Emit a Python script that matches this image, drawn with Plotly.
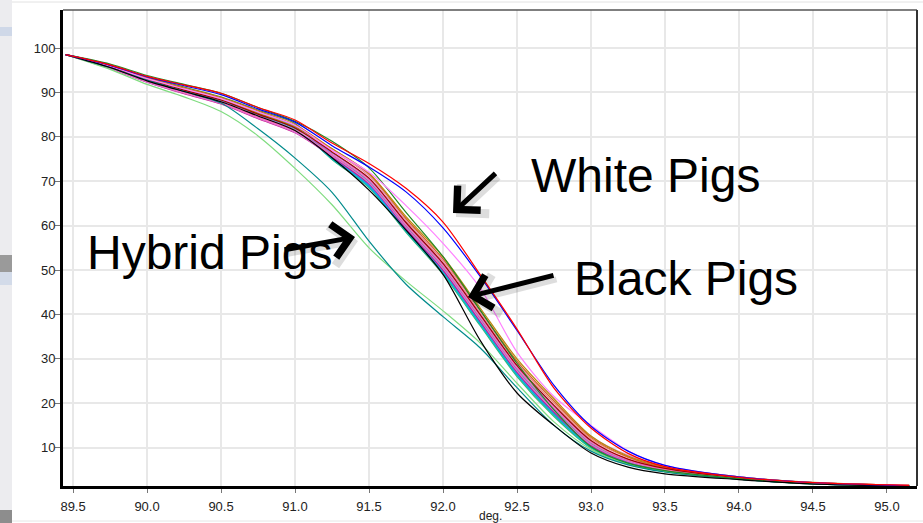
import plotly.graph_objects as go

# ---------------- data ----------------
temps = [89.45, 89.75, 90.0, 90.25, 90.5, 90.75, 91.0, 91.25, 91.5, 91.75,
         92.0, 92.25, 92.5, 92.75, 93.0, 93.25, 93.5, 94.0, 94.5, 95.15]

x_ticks = [89.5, 90.0, 90.5, 91.0, 91.5, 92.0, 92.5, 93.0, 93.5, 94.0, 94.5, 95.0]
y_ticks = [10, 20, 30, 40, 50, 60, 70, 80, 90, 100]

# black pigs (main bundle)
bp_darkred   = [98.5, 95.8, 92.9, 90.5, 88.3, 85.1, 82.0, 76.6, 70.7, 60.7, 51.5, 40.0, 28.5, 19.5, 11.6, 7.4, 5.3, 3.2, 2.0, 1.4]
bp_goldenrod = [98.5, 95.9, 93.0, 90.7, 88.4, 85.3, 82.2, 77.3, 71.8, 62.0, 53.0, 41.5, 30.0, 21.0, 12.6, 8.1, 5.7, 3.4, 2.2, 1.5]
bp_hotpink   = [98.5, 95.5, 92.5, 90.0, 87.7, 84.4, 81.3, 76.0, 70.3, 60.2, 51.0, 39.5, 28.0, 19.0, 11.2, 7.2, 5.1, 3.1, 2.0, 1.4]
bp_orchid    = [98.5, 95.4, 92.3, 89.8, 87.5, 84.2, 81.0, 75.7, 69.6, 59.6, 50.3, 38.8, 27.3, 18.3, 10.7, 6.9, 5.0, 3.0, 1.9, 1.4]
bp_mvred     = [98.5, 95.4, 92.3, 89.7, 87.4, 84.1, 80.9, 75.5, 69.4, 59.4, 50.0, 38.5, 27.0, 18.0, 10.5, 6.8, 4.9, 3.0, 1.9, 1.4]
bp_cornflower= [98.5, 96.0, 93.2, 90.9, 88.6, 85.5, 82.5, 76.1, 70.0, 60.0, 50.8, 39.3, 27.8, 18.8, 11.1, 7.1, 5.1, 3.1, 2.0, 1.4]
bp_dodger    = [98.5, 95.9, 93.0, 90.6, 88.3, 85.2, 82.1, 75.4, 69.1, 59.1, 49.8, 38.3, 26.8, 17.8, 10.4, 6.7, 4.8, 3.0, 1.9, 1.4]
bp_cyan      = [98.5, 95.7, 92.8, 90.3, 88.1, 84.9, 81.8, 75.0, 68.7, 58.7, 49.3, 37.8, 26.3, 17.3, 10.0, 6.4, 4.7, 2.9, 1.9, 1.3]
bp_seagreen  = [98.5, 95.8, 92.8, 90.4, 88.2, 85.0, 81.9, 75.2, 68.9, 58.9, 49.5, 38.0, 26.5, 17.5, 10.2, 6.5, 4.8, 2.9, 1.9, 1.3]
bp_medgreen  = [98.5, 96.0, 93.1, 90.8, 88.5, 85.4, 82.4, 74.9, 68.5, 58.5, 49.0, 37.5, 26.0, 17.0, 9.9, 6.3, 4.6, 2.9, 1.8, 1.3]
bp_purple    = [98.5, 95.7, 92.7, 90.2, 88.0, 84.8, 81.6, 76.4, 70.5, 60.5, 51.3, 39.8, 28.3, 19.3, 11.4, 7.3, 5.2, 3.2, 2.0, 1.4]
bp_plum      = [98.5, 95.6, 92.6, 90.1, 87.8, 84.6, 81.4, 77.1, 71.4, 61.4, 52.3, 40.8, 29.3, 20.5, 12.5, 8.3, 5.8, 3.4, 2.1, 1.5]
bp_coral     = [98.5, 95.6, 92.6, 90.1, 87.9, 84.7, 81.5, 77.0, 71.2, 61.2, 52.0, 40.5, 29.0, 20.0, 12.0, 7.8, 5.4, 3.3, 2.1, 1.5]
bp_slate     = [98.5, 95.8, 92.9, 90.5, 88.3, 85.1, 82.0, 75.9, 69.8, 59.8, 50.5, 39.0, 27.5, 18.5, 10.9, 7.0, 5.0, 3.1, 2.0, 1.4]
bp_chocolate = [98.5, 96.1, 93.3, 91.0, 88.8, 85.8, 82.7, 77.3, 71.6, 61.6, 52.5, 41.0, 29.5, 20.5, 12.3, 7.9, 5.5, 3.4, 2.1, 1.5]
bp_olive     = [98.5, 96.2, 93.5, 91.2, 89.0, 86.0, 83.0, 75.6, 69.4, 59.4, 50.0, 38.5, 27.0, 18.0, 10.6, 6.8, 4.9, 3.0, 1.9, 1.4]
bp_black     = [98.5, 95.6, 92.6, 90.2, 87.9, 84.7, 81.4, 75.3, 68.0, 59.0, 49.0, 34.2, 22.3, 15.0, 8.8, 5.6, 4.1, 2.8, 1.8, 1.3]

# hybrid pigs
hy_teal      = [98.5, 95.6, 92.8, 90.2, 87.6, 81.8, 75.2, 67.5, 56.5, 46.8, 39.5, 32.5, 23.5, 15.0, 9.2, 6.1, 4.5, 2.9, 1.8, 1.3]
hy_lightgrn  = [98.5, 95.2, 91.8, 89.0, 85.7, 80.2, 72.9, 64.7, 55.0, 47.5, 40.8, 33.6, 24.5, 15.8, 9.6, 6.3, 4.6, 2.9, 1.9, 1.4]

# white pigs
wp_red       = [98.5, 96.2, 93.6, 91.7, 89.8, 86.6, 83.8, 78.6, 74.0, 68.4, 60.8, 49.0, 36.7, 23.4, 14.4, 8.7, 5.7, 3.3, 2.1, 1.5]
wp_blue      = [98.5, 96.1, 93.5, 91.5, 89.5, 86.3, 83.3, 78.0, 73.2, 67.6, 59.5, 48.6, 36.4, 24.0, 14.8, 9.2, 6.0, 3.4, 2.1, 1.4]
wp_violet    = [98.5, 95.9, 93.1, 90.8, 88.6, 85.6, 82.6, 77.0, 72.0, 64.5, 56.0, 46.0, 31.5, 21.5, 15.0, 9.3, 6.0, 3.4, 2.1, 1.5]
wp_green     = [98.5, 96.4, 93.8, 91.8, 89.8, 86.6, 83.5, 79.0, 73.0, 63.0, 53.0, 41.0, 29.0, 18.5, 10.2, 6.5, 4.8, 3.0, 1.9, 1.4]

series = [
    (bp_olive, "#6b8e23"), (bp_medgreen, "#3cb371"), (bp_seagreen, "#20b2aa"),
    (bp_cyan, "#00c0c8"), (bp_dodger, "#1e90ff"), (bp_cornflower, "#8c9cf0"),
    (bp_slate, "#778899"), (bp_purple, "#9370db"), (bp_coral, "#f08080"),
    (bp_plum, "#e29ae2"), (bp_mvred, "#c71585"), (bp_orchid, "#da70d6"),
    (bp_hotpink, "#ff69b4"), (bp_chocolate, "#d2691e"), (bp_goldenrod, "#b8860b"),
    (bp_darkred, "#a00000"),
    (hy_lightgrn, "#7fdc7f"), (hy_teal, "#008b8b"),
    (wp_green, "#228b22"), (wp_violet, "#ff80ff"), (bp_black, "#000000"),
    (wp_blue, "#0000ff"), (wp_red, "#ff0000"),
]

# ---------------- figure ----------------
FONT = "Liberation Sans, Arial, sans-serif"
W, H = 923, 523
PL, PR, PT, PB = 63, 917, 10, 486


def fx(x):
    return (x - PL) / (PR - PL)


def fy(y):
    return (PB - y) / (PB - PT)


fig = go.Figure()
for vals, col in series:
    fig.add_trace(go.Scatter(x=temps, y=vals, mode="lines",
                             line=dict(color=col, width=1.2, shape="spline", smoothing=0.8),
                             hoverinfo="skip", showlegend=False))

shapes = [
    # screenshot fragment on the left
    dict(type="rect", xref="paper", yref="paper", x0=fx(0), x1=fx(12), y0=fy(523), y1=fy(0),
         fillcolor="#ececef", line=dict(width=0), layer="below"),
    dict(type="rect", xref="paper", yref="paper", x0=fx(0), x1=fx(12), y0=fy(36), y1=fy(27),
         fillcolor="#cfd8e8", line=dict(width=0), layer="below"),
    dict(type="rect", xref="paper", yref="paper", x0=fx(0), x1=fx(12), y0=fy(272), y1=fy(255),
         fillcolor="#9a9a9a", line=dict(width=0), layer="below"),
    dict(type="rect", xref="paper", yref="paper", x0=fx(0), x1=fx(12), y0=fy(285), y1=fy(272),
         fillcolor="#d3dbe9", line=dict(width=0), layer="below"),
    dict(type="rect", xref="paper", yref="paper", x0=fx(0), x1=fx(12), y0=fy(523), y1=fy(510),
         fillcolor="#8d8d8d", line=dict(width=0), layer="below"),
    dict(type="line", xref="paper", yref="paper", x0=fx(12), x1=fx(923), y0=fy(2), y1=fy(2),
         line=dict(color="#e2e2e2", width=1)),
    dict(type="line", xref="paper", yref="paper", x0=fx(12), x1=fx(923), y0=fy(521), y1=fy(521),
         line=dict(color="#e6e6e6", width=1)),
    # top and right frame
    dict(type="line", xref="paper", yref="paper", x0=0, x1=1, y0=1, y1=1,
         line=dict(color="#555555", width=1.5)),
    dict(type="line", xref="paper", yref="paper", x0=1, x1=1, y0=0, y1=1,
         line=dict(color="#333333", width=2)),
]

annotations = []
# arrows: (tail_x, tail_y, head_x, head_y) in pixels
arrows = [(497, 172, 453, 213), (555, 275, 468, 297), (283, 250, 355, 237)]
for tx, ty, hx, hy in arrows:
    annotations.append(dict(xref="paper", yref="paper", x=fx(hx + 3), y=fy(hy + 4),
                            ax=tx - hx, ay=ty - hy, text="", showarrow=True,
                            arrowhead=4, arrowsize=1.3, arrowwidth=6,
                            arrowcolor="rgba(0,0,0,0.13)", standoff=0))
    annotations.append(dict(xref="paper", yref="paper", x=fx(hx), y=fy(hy),
                            ax=tx - hx, ay=ty - hy, text="", showarrow=True,
                            arrowhead=4, arrowsize=1.3, arrowwidth=5,
                            arrowcolor="#000000", standoff=0))

labels = [("White Pigs", 529, 175), ("Black Pigs", 572, 278), ("Hybrid Pigs", 85, 252)]
for txt, lx, ly in labels:
    annotations.append(dict(xref="paper", yref="paper", x=fx(lx), y=fy(ly), text=txt,
                            showarrow=False, xanchor="left", yanchor="middle",
                            font=dict(family=FONT, size=48, color="#000000")))

annotations.append(dict(xref="paper", yref="paper", x=fx(490), y=fy(516), text="deg.",
                        showarrow=False, xanchor="center", yanchor="middle",
                        font=dict(family=FONT, size=12, color="#222222")))

fig.update_layout(
    width=W, height=H,
    margin=dict(l=PL, r=W - PR, t=PT, b=H - PB, pad=0, autoexpand=False),
    paper_bgcolor="white", plot_bgcolor="white",
    shapes=shapes, annotations=annotations,
    font=dict(family=FONT, size=13, color="#222222"),
    xaxis=dict(range=[89.432, 95.203], tickmode="array", tickvals=x_ticks,
               ticktext=[f"{v:.1f}" for v in x_ticks],
               showgrid=True, gridcolor="#e8e8e8", gridwidth=1.5,
               showline=True, linecolor="#000000", linewidth=3,
               ticks="outside", ticklen=4, tickcolor="#777777", tickwidth=1,
               ticklabelstandoff=2,
               zeroline=False, fixedrange=True, automargin=False,
               tickfont=dict(family=FONT, size=13, color="#222222")),
    yaxis=dict(range=[1.35, 108.56], tickmode="array", tickvals=y_ticks,
               showgrid=True, gridcolor="#e8e8e8", gridwidth=1.5,
               showline=True, linecolor="#000000", linewidth=3,
               ticks="outside", ticklen=5, tickcolor="#777777", tickwidth=1,
               ticklabelstandoff=-3,
               zeroline=False, fixedrange=True, automargin=False,
               tickfont=dict(family=FONT, size=13, color="#222222")),
)

fig.write_html("out.html", config={"displayModeBar": False},
               post_script="document.body.style.margin='0px';document.body.style.padding='0px';")
